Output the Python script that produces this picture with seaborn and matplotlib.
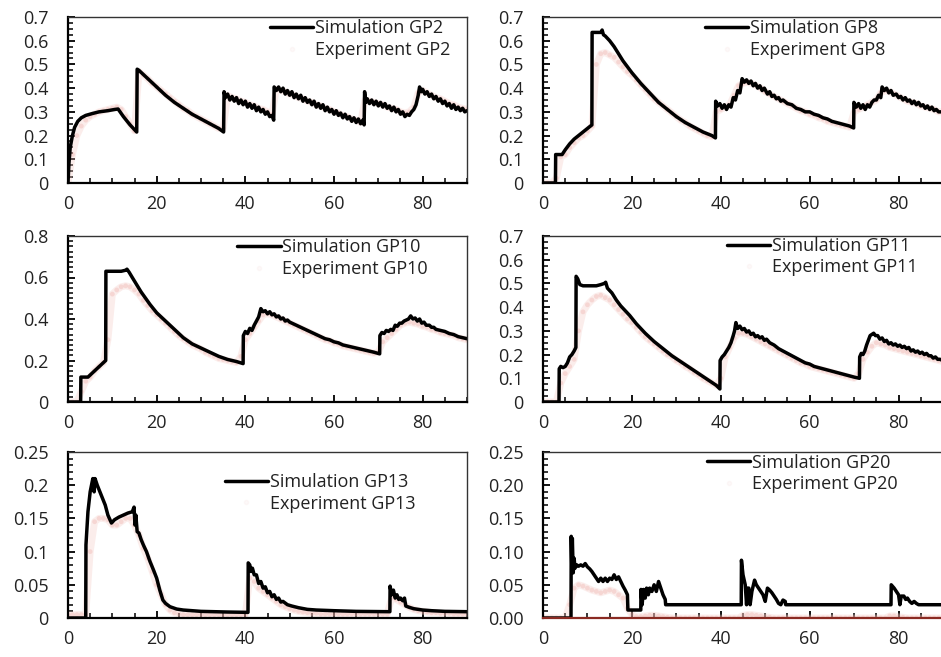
import numpy as np
import pandas as pd
import matplotlib
matplotlib.use("Agg")
import matplotlib.pyplot as plt
from matplotlib.ticker import MultipleLocator, FuncFormatter
from matplotlib.lines import Line2D
import seaborn as sns

# ---------------- data ----------------
exp_t = list(range(0, 91))

gp2_sim = [(0, 0), (0.2, 0.08), (0.5, 0.15), (1.0, 0.20), (1.5, 0.235), (2.2, 0.26), (3, 0.275), (4, 0.285),
           (5.5, 0.293), (7, 0.30), (9, 0.305), (10.5, 0.31), (11.3, 0.312), (12.5, 0.28), (14, 0.245),
           (15.5, 0.215), (15.6, 0.48), (16, 0.475), (18, 0.44), (20, 0.405), (22, 0.37), (24, 0.34),
           (26, 0.315), (28, 0.29), (30, 0.27), (32, 0.25), (34, 0.23), (35.1, 0.215), (35.2, 0.385),
           (35.5, 0.36), (36, 0.375), (36.5, 0.35), (37, 0.365), (37.5, 0.345), (38, 0.36), (38.5, 0.335),
           (39, 0.35), (39.5, 0.33), (40, 0.345), (40.5, 0.32), (41, 0.335), (41.5, 0.315), (42, 0.33),
           (42.5, 0.305), (43, 0.32), (43.5, 0.30), (44, 0.31), (44.5, 0.29), (45, 0.30), (45.5, 0.28),
           (46, 0.285), (46.4, 0.265), (46.5, 0.405), (47, 0.39), (47.5, 0.405), (48, 0.385), (48.5, 0.40),
           (49, 0.375), (49.5, 0.39), (50, 0.37), (50.5, 0.385), (51, 0.36), (51.5, 0.375), (52, 0.355),
           (52.5, 0.37), (53, 0.345), (53.5, 0.36), (54, 0.34), (54.5, 0.35), (55, 0.33), (55.5, 0.345),
           (56, 0.32), (56.5, 0.335), (57, 0.315), (57.5, 0.33), (58, 0.305), (58.5, 0.32), (59, 0.30),
           (59.5, 0.31), (60, 0.29), (60.5, 0.305), (61, 0.285), (61.5, 0.295), (62, 0.275), (62.5, 0.29),
           (63, 0.27), (63.5, 0.28), (64, 0.26), (64.5, 0.275), (65, 0.255), (65.5, 0.27), (66, 0.25),
           (66.5, 0.265), (66.8, 0.245), (66.9, 0.385), (67.2, 0.34), (67.5, 0.355), (68, 0.335),
           (68.5, 0.35), (69, 0.33), (69.5, 0.345), (70, 0.325), (70.5, 0.34), (71, 0.32), (71.5, 0.335),
           (72, 0.315), (72.5, 0.325), (73, 0.305), (73.5, 0.32), (74, 0.30), (74.5, 0.31), (75, 0.29),
           (75.5, 0.30), (76, 0.28), (76.5, 0.29), (77, 0.285), (77.5, 0.30), (78, 0.31), (78.5, 0.33),
           (79, 0.37), (79.3, 0.405), (79.7, 0.385), (80, 0.395), (80.5, 0.375), (81, 0.385), (81.5, 0.365),
           (82, 0.375), (82.5, 0.355), (83, 0.365), (83.5, 0.345), (84, 0.355), (84.5, 0.335), (85, 0.345),
           (85.5, 0.325), (86, 0.335), (86.5, 0.315), (87, 0.33), (87.5, 0.31), (88, 0.32), (88.5, 0.305),
           (89, 0.315), (89.5, 0.30), (90, 0.305)]
gp2_exp = [0, 0.12, 0.2, 0.24, 0.265, 0.28, 0.29, 0.3, 0.305, 0.31,
           0.315, 0.32, 0.31, 0.28, 0.25, 0.22, 0.47, 0.455, 0.44, 0.42,
           0.405, 0.39, 0.375, 0.36, 0.345, 0.33, 0.315, 0.305, 0.29, 0.28,
           0.27, 0.26, 0.25, 0.24, 0.23, 0.23, 0.37, 0.36, 0.355, 0.345,
           0.34, 0.33, 0.325, 0.315, 0.31, 0.3, 0.29, 0.395, 0.39, 0.385,
           0.375, 0.37, 0.36, 0.355, 0.345, 0.34, 0.33, 0.325, 0.315, 0.31,
           0.3, 0.295, 0.285, 0.28, 0.27, 0.265, 0.255, 0.35, 0.345, 0.34,
           0.335, 0.33, 0.32, 0.315, 0.31, 0.3, 0.295, 0.3, 0.32, 0.38,
           0.39, 0.38, 0.37, 0.36, 0.355, 0.345, 0.335, 0.33, 0.32, 0.315,
           0.31]

gp8_sim = [(0, 0), (2.8, 0), (2.85, 0.12), (4.3, 0.12), (5, 0.14), (6, 0.165), (7, 0.185), (8, 0.2), (9, 0.215),
           (10, 0.23), (11, 0.245), (11.05, 0.635), (12, 0.635), (13, 0.635), (13.3, 0.645), (13.6, 0.625),
           (14, 0.62), (15, 0.6), (16, 0.575), (17, 0.545), (18, 0.515), (19, 0.49), (20, 0.465), (22, 0.42),
           (24, 0.38), (26, 0.34), (28, 0.31), (30, 0.28), (32, 0.255), (34, 0.235), (36, 0.215), (38, 0.2),
           (38.8, 0.19), (38.85, 0.345), (39.3, 0.325), (39.8, 0.335), (40.3, 0.315), (40.8, 0.33),
           (41.3, 0.31), (41.8, 0.33), (42.3, 0.32), (42.8, 0.36), (43.3, 0.35), (43.8, 0.39), (44.3, 0.38),
           (44.8, 0.44), (45.3, 0.425), (45.8, 0.435), (46.3, 0.42), (46.8, 0.43), (47.3, 0.41), (47.8, 0.42),
           (48.3, 0.40), (48.8, 0.41), (49.3, 0.39), (49.8, 0.40), (50.5, 0.375), (51, 0.385), (51.5, 0.365),
           (52, 0.37), (52.5, 0.355), (53, 0.36), (53.5, 0.345), (54, 0.35), (55, 0.335), (56, 0.33),
           (57, 0.315), (58, 0.31), (59, 0.30), (60, 0.30), (61, 0.29), (62, 0.285), (63, 0.275), (64, 0.27),
           (65, 0.26), (66, 0.255), (67, 0.25), (68, 0.245), (69, 0.24), (69.9, 0.232), (69.95, 0.34),
           (70.5, 0.32), (71, 0.335), (71.5, 0.315), (72, 0.33), (72.5, 0.31), (73, 0.33), (73.5, 0.32),
           (74, 0.34), (74.5, 0.35), (75, 0.35), (75.5, 0.37), (76, 0.36), (76.3, 0.405), (76.8, 0.39),
           (77.3, 0.40), (77.8, 0.38), (78.3, 0.39), (78.8, 0.37), (79.5, 0.375), (80, 0.36), (80.5, 0.365),
           (81, 0.35), (81.5, 0.36), (82, 0.345), (82.5, 0.35), (83, 0.335), (83.5, 0.345), (84, 0.33),
           (84.5, 0.34), (85, 0.325), (85.5, 0.33), (86, 0.315), (86.5, 0.325), (87, 0.31), (87.5, 0.32),
           (88, 0.305), (88.5, 0.31), (89, 0.30), (90, 0.30)]
gp8_exp = [0, 0, 0, 0.02, 0.11, 0.12, 0.15, 0.17, 0.19, 0.2,
           0.22, 0.24, 0.5, 0.545, 0.55, 0.54, 0.53, 0.51, 0.49, 0.47,
           0.455, 0.435, 0.415, 0.395, 0.375, 0.355, 0.34, 0.325, 0.31, 0.295,
           0.28, 0.265, 0.255, 0.24, 0.23, 0.22, 0.21, 0.2, 0.195, 0.3,
           0.31, 0.32, 0.33, 0.37, 0.41, 0.42, 0.425, 0.42, 0.41, 0.4,
           0.385, 0.375, 0.365, 0.355, 0.345, 0.335, 0.325, 0.315, 0.305, 0.3,
           0.29, 0.285, 0.275, 0.27, 0.26, 0.255, 0.25, 0.245, 0.24, 0.235,
           0.3, 0.31, 0.32, 0.33, 0.34, 0.35, 0.38, 0.39, 0.385, 0.375,
           0.365, 0.355, 0.345, 0.34, 0.335, 0.325, 0.32, 0.315, 0.31, 0.3,
           0.3]

gp10_sim = [(0, 0), (2.85, 0), (2.9, 0.12), (4.5, 0.12), (5.5, 0.14), (6.5, 0.16), (7.5, 0.18), (8.5, 0.2),
            (8.55, 0.63), (10, 0.63), (11, 0.63), (12, 0.63), (13, 0.635), (13.3, 0.64), (13.8, 0.625),
            (14.5, 0.6), (15.5, 0.565), (16.5, 0.53), (17.5, 0.5), (18.5, 0.47), (20, 0.43), (22, 0.39),
            (24, 0.35), (26, 0.31), (28, 0.28), (30, 0.26), (32, 0.24), (34, 0.22), (36, 0.205), (38, 0.195),
            (39.5, 0.185), (39.55, 0.32), (40, 0.34), (40.5, 0.33), (41, 0.355), (41.5, 0.345), (42, 0.37),
            (42.5, 0.39), (43, 0.41), (43.5, 0.45), (44, 0.435), (44.5, 0.44), (45, 0.425), (45.5, 0.435),
            (46, 0.42), (46.5, 0.425), (47, 0.41), (47.5, 0.415), (48, 0.40), (48.5, 0.405), (49, 0.39),
            (49.5, 0.395), (50, 0.385), (51, 0.375), (52, 0.365), (53, 0.355), (54, 0.345), (55, 0.335),
            (56, 0.325), (57, 0.315), (58, 0.305), (59, 0.30), (60, 0.29), (61, 0.285), (62, 0.275),
            (63, 0.27), (64, 0.265), (65, 0.26), (66, 0.255), (67, 0.25), (68, 0.245), (69, 0.24),
            (70.3, 0.232), (70.35, 0.32), (70.8, 0.335), (71.3, 0.33), (71.8, 0.345), (72.3, 0.34),
            (72.8, 0.35), (73.3, 0.345), (73.8, 0.37), (74.3, 0.365), (74.8, 0.38), (75.3, 0.38),
            (75.8, 0.39), (76.3, 0.395), (76.8, 0.40), (77.3, 0.415), (77.8, 0.40), (78.3, 0.405),
            (78.8, 0.39), (79.3, 0.40), (79.8, 0.38), (80.3, 0.385), (80.8, 0.37), (81.5, 0.37), (82, 0.36),
            (82.5, 0.36), (83, 0.35), (84, 0.345), (85, 0.34), (86, 0.33), (87, 0.325), (88, 0.315),
            (89, 0.31), (90, 0.305)]
gp10_exp = [0, 0, 0, 0.05, 0.1, 0.12, 0.15, 0.17, 0.19, 0.3,
            0.52, 0.54, 0.555, 0.56, 0.555, 0.54, 0.52, 0.49, 0.465, 0.44,
            0.42, 0.4, 0.38, 0.36, 0.34, 0.32, 0.305, 0.29, 0.275, 0.265,
            0.255, 0.24, 0.23, 0.22, 0.21, 0.205, 0.2, 0.195, 0.19, 0.22,
            0.3, 0.33, 0.36, 0.39, 0.42, 0.425, 0.42, 0.41, 0.4, 0.39,
            0.38, 0.37, 0.36, 0.35, 0.34, 0.33, 0.32, 0.31, 0.3, 0.295,
            0.285, 0.28, 0.27, 0.265, 0.26, 0.255, 0.25, 0.245, 0.24, 0.235,
            0.24, 0.29, 0.31, 0.33, 0.35, 0.37, 0.38, 0.385, 0.38, 0.375,
            0.365, 0.36, 0.35, 0.345, 0.335, 0.33, 0.325, 0.32, 0.31, 0.305,
            0.3]

gp11_sim = [(0, 0), (3.6, 0), (3.65, 0.14), (4, 0.15), (4.5, 0.145), (5, 0.15), (5.5, 0.165), (6, 0.19),
            (6.5, 0.2), (7, 0.215), (7.4, 0.23), (7.45, 0.53), (7.8, 0.52), (8.3, 0.495), (9, 0.49),
            (10, 0.49), (11, 0.49), (12, 0.49), (13, 0.495), (13.8, 0.5), (14.1, 0.505), (14.5, 0.48),
            (15.5, 0.46), (16.5, 0.43), (17.5, 0.405), (18.5, 0.385), (19.5, 0.365), (21, 0.33), (23, 0.29),
            (25, 0.255), (27, 0.225), (29, 0.195), (31, 0.17), (33, 0.145), (35, 0.12), (37, 0.095),
            (39, 0.07), (39.8, 0.055), (39.85, 0.175), (40.3, 0.19), (40.8, 0.2), (41.3, 0.215), (41.8, 0.23),
            (42.3, 0.25), (42.8, 0.28), (43.1, 0.30), (43.4, 0.335), (43.8, 0.31), (44.3, 0.32), (44.8, 0.305),
            (45.3, 0.31), (45.8, 0.295), (46.3, 0.30), (46.8, 0.285), (47.3, 0.29), (47.8, 0.275), (48.3, 0.28),
            (48.8, 0.27), (49.3, 0.275), (49.8, 0.26), (50.3, 0.265), (51, 0.25), (52, 0.24), (53, 0.225),
            (54, 0.215), (55, 0.205), (56, 0.195), (57, 0.185), (58, 0.175), (59, 0.165), (60, 0.16),
            (61, 0.15), (62, 0.145), (63, 0.14), (64, 0.135), (65, 0.13), (66, 0.125), (67, 0.12),
            (68, 0.115), (69, 0.11), (70, 0.105), (71.2, 0.10), (71.25, 0.19), (71.6, 0.205), (72, 0.2),
            (72.4, 0.215), (72.8, 0.24), (73.2, 0.26), (73.6, 0.28), (74, 0.285), (74.4, 0.29), (74.8, 0.28),
            (75.3, 0.28), (75.8, 0.265), (76.3, 0.27), (76.8, 0.255), (77.3, 0.26), (77.8, 0.245), (78.3, 0.25),
            (78.8, 0.24), (79.3, 0.245), (79.8, 0.235), (80.3, 0.24), (80.8, 0.23), (81.3, 0.235), (81.8, 0.225),
            (82.3, 0.23), (82.8, 0.215), (83.3, 0.22), (83.8, 0.21), (84.3, 0.215), (84.8, 0.205), (85.3, 0.21),
            (85.8, 0.2), (86.3, 0.205), (86.8, 0.195), (87.3, 0.195), (87.8, 0.185), (88.3, 0.19), (88.8, 0.18),
            (89.3, 0.18), (90, 0.175)]
gp11_exp = [0, 0, 0, 0, 0.08, 0.12, 0.15, 0.18, 0.3, 0.38,
            0.41, 0.43, 0.445, 0.45, 0.44, 0.43, 0.41, 0.39, 0.37, 0.35,
            0.335, 0.315, 0.295, 0.275, 0.26, 0.245, 0.23, 0.215, 0.2, 0.19,
            0.175, 0.165, 0.15, 0.14, 0.125, 0.115, 0.1, 0.09, 0.08, 0.07,
            0.1, 0.19, 0.23, 0.27, 0.29, 0.29, 0.285, 0.275, 0.265, 0.255,
            0.245, 0.235, 0.225, 0.215, 0.205, 0.195, 0.185, 0.175, 0.165, 0.16,
            0.15, 0.145, 0.14, 0.135, 0.13, 0.125, 0.12, 0.115, 0.11, 0.105,
            0.1, 0.12, 0.18, 0.21, 0.235, 0.25, 0.245, 0.24, 0.23, 0.225,
            0.22, 0.215, 0.21, 0.205, 0.2, 0.195, 0.19, 0.185, 0.18, 0.175,
            0.17]

gp13_sim = [(0, 0), (4.0, 0), (4.05, 0.11), (4.5, 0.16), (5, 0.19), (5.3, 0.2), (5.6, 0.21), (5.9, 0.19),
            (6.1, 0.21), (6.6, 0.2), (7.2, 0.19), (7.8, 0.18), (8.4, 0.17), (9, 0.155), (9.8, 0.143),
            (10.5, 0.148), (11.5, 0.152), (12.5, 0.155), (13.5, 0.158), (14.5, 0.16), (14.9, 0.167),
            (15.1, 0.14), (15.3, 0.155), (15.6, 0.13), (16, 0.128), (16.5, 0.118), (17, 0.11), (17.7, 0.10),
            (18.5, 0.085), (19.3, 0.072), (20, 0.06), (20.7, 0.042), (21.4, 0.027), (22, 0.022), (23, 0.017),
            (24.5, 0.0135), (26, 0.012), (28, 0.011), (30, 0.010), (33, 0.0095), (36, 0.009), (40.6, 0.0085),
            (40.65, 0.083), (41, 0.08), (41.3, 0.07), (41.6, 0.075), (42, 0.065), (42.5, 0.065), (43, 0.052),
            (43.5, 0.055), (44, 0.045), (44.5, 0.047), (45, 0.038), (45.5, 0.04), (46, 0.032), (46.5, 0.035),
            (47, 0.028), (47.5, 0.03), (48, 0.024), (48.5, 0.025), (49.5, 0.02), (50.5, 0.018), (52, 0.0155),
            (54, 0.013), (56, 0.012), (60, 0.011), (65, 0.010), (72.6, 0.0095), (72.65, 0.048), (73, 0.035),
            (73.4, 0.042), (73.8, 0.03), (74.2, 0.035), (74.6, 0.028), (75, 0.03), (75.5, 0.026), (75.9, 0.03),
            (76.2, 0.018), (77, 0.016), (78, 0.014), (79, 0.013), (80, 0.012), (82, 0.011), (85, 0.010),
            (90, 0.0095)]
gp13_exp = [0.005, 0.005, 0.005, 0.005, 0.005, 0.1, 0.145, 0.15, 0.15, 0.148,
            0.14, 0.14, 0.145, 0.15, 0.15, 0.14, 0.125, 0.105, 0.09, 0.07,
            0.05, 0.035, 0.02, 0.012, 0.008, 0.006, 0.005, 0.005, 0.005, 0.005,
            0.005, 0.005, 0.005, 0.005, 0.005, 0.005, 0.005, 0.005, 0.005, 0.005,
            0.005, 0.06, 0.055, 0.045, 0.04, 0.035, 0.03, 0.025, 0.02, 0.017,
            0.014, 0.012, 0.01, 0.009, 0.008, 0.007, 0.007, 0.006, 0.006, 0.006,
            0.006, 0.006, 0.006, 0.006, 0.006, 0.006, 0.006, 0.006, 0.006, 0.006,
            0.006, 0.006, 0.006, 0.03, 0.028, 0.024, 0.02, 0.016, 0.013, 0.011,
            0.01, 0.009, 0.008, 0.008, 0.007, 0.007, 0.007, 0.006, 0.006, 0.006,
            0.006]

gp20_sim = [(0, 0), (6.3, 0), (6.35, 0.123), (6.5, 0.07), (6.6, 0.12), (6.8, 0.068), (7, 0.09), (7.2, 0.075),
            (7.6, 0.08), (8, 0.078), (8.5, 0.08), (9, 0.078), (9.5, 0.082), (10, 0.077), (10.5, 0.074),
            (11, 0.07), (11.5, 0.065), (12, 0.06), (12.5, 0.055), (13, 0.06), (13.5, 0.055), (14, 0.06),
            (14.5, 0.055), (15, 0.06), (15.5, 0.058), (16, 0.065), (16.5, 0.058), (17, 0.062), (17.5, 0.055),
            (18, 0.048), (18.5, 0.042), (19, 0.035), (19.1, 0.012), (22, 0.012), (22.05, 0.043), (22.3, 0.02),
            (22.6, 0.043), (23, 0.03), (23.3, 0.045), (23.7, 0.035), (24, 0.045), (24.5, 0.04), (25, 0.05),
            (25.5, 0.04), (26, 0.055), (26.5, 0.045), (27, 0.035), (27.5, 0.028), (27.6, 0.02), (44.6, 0.02),
            (44.65, 0.087), (45, 0.065), (45.5, 0.05), (45.8, 0.02), (46, 0.045), (46.3, 0.045), (46.6, 0.02),
            (47, 0.04), (47.6, 0.057), (48, 0.05), (48.5, 0.045), (49, 0.04), (49.5, 0.035), (50, 0.025),
            (50.5, 0.045), (51, 0.042), (51.5, 0.038), (52, 0.033), (52.5, 0.028), (53, 0.022), (53.5, 0.02),
            (54, 0.027), (54.5, 0.025), (54.6, 0.02), (78.3, 0.02), (78.35, 0.05), (79, 0.045), (79.5, 0.04),
            (80, 0.035), (80.3, 0.02), (80.6, 0.033), (81.2, 0.033), (81.6, 0.028), (82, 0.03), (82.5, 0.025),
            (83, 0.022), (83.5, 0.025), (84, 0.022), (84.5, 0.02), (90, 0.02)]
gp20_exp = [0, 0, 0, 0, 0, 0, 0.02, 0.045, 0.05, 0.048,
            0.045, 0.042, 0.04, 0.038, 0.04, 0.042, 0.04, 0.035, 0.03, 0.015,
            0.005, 0.002, 0.002, 0.003, 0.004, 0.004, 0.003, 0.002, 0.001, 0,
            0, 0, 0, 0, 0, 0, 0, 0, 0, 0,
            0, 0, 0, 0, 0, 0.004, 0.005, 0.005, 0.004, 0.003,
            0.002, 0.001, 0, 0, 0, 0, 0, 0, 0, 0,
            0, 0, 0, 0, 0, 0, 0, 0, 0, 0,
            0, 0, 0, 0, 0, 0, 0, 0, 0.003, 0.003,
            0.002, 0.001, 0, 0, 0, 0, 0, 0, 0, 0,
            0]

panel_names = ["GP2", "GP8", "GP10", "GP11", "GP13", "GP20"]
panel_sims = [gp2_sim, gp8_sim, gp10_sim, gp11_sim, gp13_sim, gp20_sim]
panel_exps = [gp2_exp, gp8_exp, gp10_exp, gp11_exp, gp13_exp, gp20_exp]
y_max = [0.7, 0.7, 0.8, 0.7, 0.25, 0.25]
y_major = [0.1, 0.1, 0.2, 0.1, 0.05, 0.05]
y_minor = [0.025, 0.025, 0.025, 0.025, 0.01, 0.01]
y_fmt = ["g", "g", "g", "g", "g", "2f"]

# ---------------- style ----------------
sns.set_style("white")
plt.rcParams["font.family"] = ["Open Sans", "DejaVu Sans"]
TXT = "#222222"

W, H = 941, 657
fig = plt.figure(figsize=(W / 100, H / 100), dpi=100)

col_left = [68, 543]
col_width = [399, 400]
row_top = [17, 236, 452]
ax_h = 166

legend_anchor = [(0.506, 0.985), (0.405, 0.985), (0.424, 0.985),
                 (0.46, 0.995), (0.393, 0.873), (0.41, 0.99)]

for i, name in enumerate(panel_names):
    r, c = divmod(i, 2)
    l = col_left[c] / W
    b = 1 - (row_top[r] + ax_h) / H
    ax = fig.add_axes([l, b, col_width[c] / W, ax_h / H])

    sim = pd.DataFrame(panel_sims[i], columns=["t", "v"])
    ev = panel_exps[i]
    exp = pd.DataFrame({"t": exp_t[:len(ev)], "v": ev[:len(exp_t)]})

    sns.lineplot(data=exp, x="t", y="v", ax=ax, color="#f3c4bf", lw=5, alpha=0.3,
                 estimator=None, sort=False, legend=False)
    sns.scatterplot(data=exp, x="t", y="v", ax=ax, color="#e89890", s=12, alpha=0.3,
                    edgecolor="none", legend=False)
    sns.lineplot(data=sim, x="t", y="v", ax=ax, color="black", lw=2.5,
                 estimator=None, sort=False, legend=False)

    ax.set_xlim(0, 90)
    ax.set_ylim(0, y_max[i])
    ax.set_xlabel("")
    ax.set_ylabel("")
    ax.xaxis.set_major_locator(MultipleLocator(20))
    ax.xaxis.set_minor_locator(MultipleLocator(5))
    ax.yaxis.set_major_locator(MultipleLocator(y_major[i]))
    ax.yaxis.set_minor_locator(MultipleLocator(y_minor[i]))
    if y_fmt[i] == "g":
        ax.yaxis.set_major_formatter(FuncFormatter(lambda v, p: ("%.2f" % v).rstrip("0").rstrip(".") if v else "0"))
    else:
        ax.yaxis.set_major_formatter(FuncFormatter(lambda v, p: "%.2f" % v))
    ax.tick_params(axis="both", which="both", direction="in", top=False, right=False,
                   bottom=True, left=True, colors="black", labelcolor=TXT, labelsize=13)
    ax.tick_params(axis="x", which="major", length=5, width=1.3, pad=9)
    ax.tick_params(axis="x", which="minor", length=3.5, width=1.1)
    ax.tick_params(axis="y", which="major", length=5, width=1.3, pad=14)
    ax.tick_params(axis="y", which="minor", length=3.5, width=1.1)
    for s in ["left", "bottom"]:
        ax.spines[s].set_color("black")
        ax.spines[s].set_linewidth(1.6)
    for s in ["top", "right"]:
        ax.spines[s].set_color("#333333")
        ax.spines[s].set_linewidth(1.0)
    if name == "GP20":
        ax.spines["bottom"].set_color("#8a2a22")

    handles = [Line2D([], [], color="black", lw=2.5),
               Line2D([], [], color="#e89890", marker="o", ls="none", ms=3, alpha=0.05)]
    labels = ["Simulation " + name, "Experiment " + name]
    leg = ax.legend(handles, labels, loc="upper left", bbox_to_anchor=legend_anchor[i],
                    frameon=False, borderpad=0, borderaxespad=0, handlelength=2.4,
                    handletextpad=0.1, labelspacing=0.2, fontsize=13)
    for t in leg.get_texts():
        t.set_color(TXT)

fig.savefig("out.png", dpi=100)
